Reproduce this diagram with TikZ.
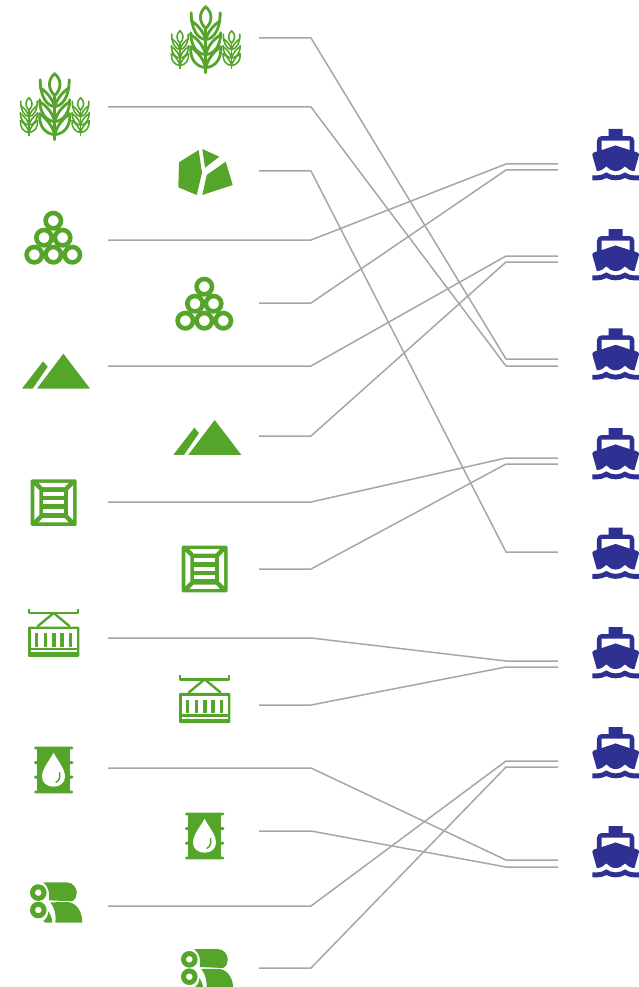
\documentclass[tikz,border=0pt]{standalone}
\usetikzlibrary{calc}
\definecolor{leaf}{HTML}{55A52B}
\definecolor{navy}{HTML}{2E3192}
\definecolor{wire}{HTML}{A6A6A6}
\tikzset{
  wirelink/.style={draw=wire,line width=1.5pt,line join=round},
  solidgreen/.style={fill=leaf,draw=none},
  linegreen/.style={draw=leaf,fill=none,line join=round,line cap=round},
}
% one ear of wheat: origin at its tip, 68 units tall before scaling
\newcommand{\wheatear}[3]{%
  \begin{scope}[shift={(#1,#2)},scale=#3,linegreen,line width=#3*2.8pt]
    \draw (0,1) .. controls (-7,7) and (-7,16) .. (0,23) .. controls (7,16) and (7,7) .. (0,1) -- cycle;
    \draw (0,23) -- (0,67);
    \foreach \s in {-1,1}{
      \draw (0,34) .. controls (\s*8,33) and (\s*14.5,24) .. (\s*14.5,7);
      \draw (0,34) .. controls (\s*2,27) and (\s*7,20) .. (\s*14.5,15);
      \draw (0,49) .. controls (\s*9,48) and (\s*15,40) .. (\s*15,27);
      \draw (0,49) .. controls (\s*2,41) and (\s*7,34) .. (\s*15,29);
      \draw (0,62) .. controls (\s*10,61) and (\s*16,53) .. (\s*15,41);
      \draw (0,62) .. controls (\s*2,54) and (\s*7,47) .. (\s*15,41);
    }
  \end{scope}}
\newcommand{\wheaticon}[2]{%
  \begin{scope}[shift={(#1,#2)}]
    \wheatear{0}{0}{1}
    \wheatear{-25.7}{24.5}{.57}
    \wheatear{25.9}{24.5}{.57}
  \end{scope}}
\newcommand{\rockicon}[2]{%
  \begin{scope}[shift={(#1,#2)}]
    \fill[solidgreen] (198.7,150)--(179,162.3)--(178.3,187.3)--(196.7,195)--(202,173)--cycle;
    \fill[solidgreen] (202.3,149)--(219.3,156.7)--(205,167.7)--cycle;
    \fill[solidgreen] (225.7,161.7)--(232.7,185)--(202.3,195)--(206.7,175)--cycle;
  \end{scope}}
\newcommand{\pipesicon}[2]{%
  \begin{scope}[shift={(#1,#2)},linegreen,line width=4.6pt]
    \foreach \px/\py in {0/0,-9.3/17,9.3/17,-19/34,0/34,19/34}{
      \draw (\px,\py) circle[radius=7.7];
    }
  \end{scope}}
\newcommand{\hillicon}[2]{%
  \begin{scope}[shift={(#1,#2)}]
    \fill[solidgreen] (214.7,420)--(241.3,454.9)--(188.3,454.9)--cycle;
    \fill[solidgreen] (194.3,427.7)--(199,433)--(184,454.9)--(173.3,454.9)--cycle;
  \end{scope}}
\newcommand{\crateicon}[2]{%
  \begin{scope}[shift={(#1,#2)}]
    \fill[solidgreen,rounded corners=1.3pt] (0,0) rectangle (46,46.6);
    \fill[white] (8,3.5)--(38,3.5)--(34,7.8)--(12,7.8)--cycle;
    \fill[white] (8,43.1)--(38,43.1)--(34,38.8)--(12,38.8)--cycle;
    \fill[white] (3.6,6)--(8.6,11)--(8.6,35.6)--(3.6,40.6)--cycle;
    \fill[white] (42.4,6)--(37.4,11)--(37.4,35.6)--(42.4,40.6)--cycle;
    \fill[white] (12.7,12.7) rectangle (33.3,16.7);
    \fill[white] (12.7,20.9) rectangle (33.3,25);
    \fill[white] (12.7,29.2) rectangle (33.3,33.3);
  \end{scope}}
\newcommand{\containericon}[2]{%
  \begin{scope}[shift={(#1,#2)}]
    \draw[linegreen,line width=2.4pt,line cap=butt] (1.2,0)--(1.2,4)--(50.1,4)--(50.1,0);
    \draw[linegreen,line width=2.4pt] (10,17)--(25.7,4)--(41.3,17);
    \fill[solidgreen,rounded corners=1pt] (0,17.5) rectangle (51.3,47.8);
    \fill[white] (2.8,20.3) rectangle (48.5,39);
    \fill[white] (2.8,41.3) rectangle (48.5,43.3);
    \foreach \bx in {6.7,15.7,24.3,32.4,40.7}{
      \fill[solidgreen] (\bx,24.3) rectangle (\bx+3.3,37.7);
    }
  \end{scope}}
\newcommand{\barrelicon}[2]{%
  \begin{scope}[shift={(#1,#2)}]
    \fill[solidgreen] (3,1) rectangle (36.3,46);
    \fill[solidgreen,rounded corners=1.3pt] (0,0) rectangle (39.3,2.6);
    \fill[solidgreen,rounded corners=1.3pt] (0,44) rectangle (39.3,46.6);
    \fill[solidgreen,rounded corners=1.3pt] (0,14.3) rectangle (39.3,17.3);
    \fill[solidgreen,rounded corners=1.3pt] (0,29) rectangle (39.3,32);
    \fill[white] (19.6,6) .. controls (16,13) and (8,22) .. (8,30) .. controls (8,36) and (13,40) .. (19.6,40) .. controls (26,40) and (31,36) .. (31,30) .. controls (31,22) and (23,13) .. (19.6,6) -- cycle;
    \draw[leaf,line width=1.5pt,line cap=round] (25.5,26) .. controls (26.5,31) and (25,34) .. (22,35.5);
  \end{scope}}
\newcommand{\rollsicon}[2]{%
  \begin{scope}[shift={(#1,#2)}]
    \fill[solidgreen] (13,0) -- (36,0) .. controls (43,0) and (46.5,6) .. (46.5,10.5) .. controls (46.5,14) and (45,17) .. (42,19) -- (18.5,18) .. controls (20,12) and (18,4) .. (13,0) -- cycle;
    \fill[solidgreen] (20,20) -- (38,19.8) .. controls (47,21) and (52,30) .. (52,40.3) -- (25,40.3) .. controls (26,32) and (24,25) .. (20,20) -- cycle;
    \fill[solidgreen] (13,38.5) .. controls (16,37) and (18,33) .. (18,29) .. controls (20,32) and (22,36) .. (22,40.3) -- (15,40.3) -- cycle;
    \draw[linegreen,line width=5pt] (8,10.3) circle[radius=5.8];
    \draw[linegreen,line width=5pt] (8,27.7) circle[radius=5.8];
  \end{scope}}
% ship drawn on a 24-unit grid, top left of its extent at (2,1)
\newcommand{\shipicon}[2]{%
  \begin{scope}[shift={(#1,#2)},x=2.335pt,y=-2.335pt,shift={(-2,-1)}]
    \fill[navy] (20,20.9) .. controls (18.61,20.9) and (17.22,20.43) .. (16,19.58) .. controls (13.56,21.29) and (10.44,21.29) .. (8,19.58) .. controls (6.78,20.43) and (5.39,20.9) .. (4,20.9) -- (2,20.9) -- (2,23) -- (4,23) .. controls (5.38,23) and (6.74,22.65) .. (8,22.01) .. controls (10.52,23.3) and (13.48,23.3) .. (16,22.01) .. controls (17.26,22.66) and (18.62,23) .. (20,23) -- (22,23) -- (22,20.9) -- cycle;
    \fill[navy] (3.95,19) -- (4,19) .. controls (5.6,19) and (7.02,18.12) .. (8,17) .. controls (8.98,18.12) and (10.4,19) .. (12,19) .. controls (13.6,19) and (15.02,18.12) .. (16,17) .. controls (16.98,18.12) and (18.4,19) .. (20,19) -- (20.05,19) -- (21.94,12.32) .. controls (22.02,12.06) and (22,11.78) .. (21.88,11.54) .. controls (21.76,11.3) and (21.54,11.12) .. (21.28,11.04) -- (20,10.62) -- (20,6) .. controls (20,4.9) and (19.1,4) .. (18,4) -- (15,4) -- (15,1) -- (9,1) -- (9,4) -- (6,4) .. controls (4.9,4) and (4,4.9) .. (4,6) -- (4,10.62) -- (2.71,11.04) .. controls (2.45,11.12) and (2.23,11.3) .. (2.11,11.54) .. controls (1.99,11.78) and (1.96,12.06) .. (2.05,12.32) -- cycle;
    \fill[white] (6,6) -- (18,6) -- (18,9.97) -- (12,8) -- (6,9.97) -- cycle;
  \end{scope}}
\begin{document}
\begin{tikzpicture}[x=1pt,y=-1pt]
\useasboundingbox (0,0) rectangle (639,987);
% icons, left and right columns
\wheaticon{205.7}{5.7}
\wheaticon{54.7}{72.7}
\rockicon{0}{0}
\pipesicon{204.3}{286.7}
\pipesicon{53.3}{220.7}
\hillicon{0}{0}
\hillicon{-151.3}{-66.3}
\crateicon{181.7}{545.7}
\crateicon{30.7}{479.3}
\containericon{179}{675.3}
\containericon{28}{609}
\barrelicon{185}{812.7}
\barrelicon{34}{746.7}
\rollsicon{181.3}{949}
\rollsicon{30.3}{882.3}
\foreach \shy in {129,229,328.3,428,527.5,627,727,826}{\shipicon{592.3}{\shy}}
% connector ends
\foreach \n/\sx/\sy/\ey in {
 a/259/38/359, b/108/107/366, c/259/171/552, d/108/240/164, e/259/303/170,
 f/108/366/256, g/259/436/262, h/108/502/458, i/259/569/464, j/108/638/661,
 k/259/705/667, l/108/768/860, m/259/831/867, n/108/906/761, o/259/968/767}{
  \coordinate (from\n) at (\sx,\sy);
  \coordinate (to\n) at (558,\ey);
  \draw[wirelink] (from\n) -- (from\n -| 311,0) -- (to\n -| 506,0) -- (to\n);
}
\end{tikzpicture}
\end{document}
